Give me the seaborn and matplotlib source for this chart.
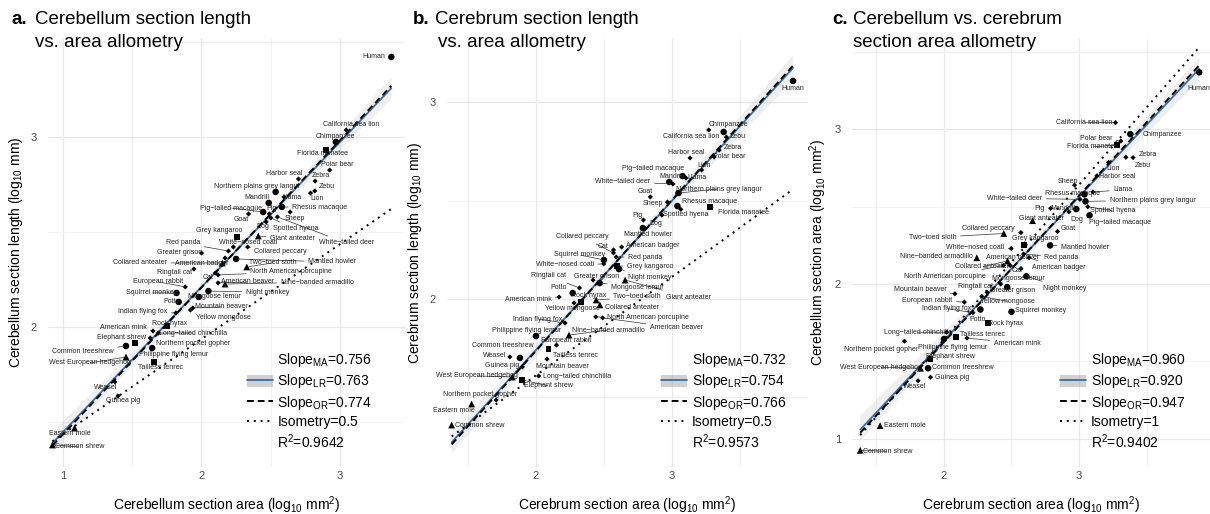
import numpy as np
import pandas as pd
import matplotlib
matplotlib.use("Agg")
import matplotlib.pyplot as plt
import seaborn as sns
from matplotlib.lines import Line2D
from matplotlib.patches import Patch
from matplotlib.ticker import FixedLocator, MultipleLocator

# ---------------- data (log10 values) ----------------
species = [
    "Human", "California sea lion", "Chimpanzee", "Florida manatee", "Polar bear",
    "Harbor seal", "Zebra", "Zebu", "Lion", "Northern plains grey langur",
    "Llama", "Mandrill", "Rhesus macaque", "Sheep", "Pig\u2212tailed macaque",
    "Pig", "Goat", "Dog", "Spotted hyena", "White\u2212tailed deer",
    "Giant anteater", "Grey kangaroo", "Red panda", "White\u2212nosed coati", "Greater grison",
    "Collared peccary", "Collared anteater", "American badger", "Mantled howler", "Two\u2212toed sloth",
    "North American porcupine", "Ringtail cat", "Cat", "European rabbit", "American beaver",
    "Nine\u2212banded armadillo", "Night monkey", "Squirrel monkey", "Mongoose lemur", "Potto",
    "Mountain beaver", "Yellow mongoose", "Indian flying fox", "Rock hyrax", "American mink",
    "Long\u2212tailed chinchilla", "Elephant shrew", "Northern pocket gopher", "Common treeshrew", "Philippine flying lemur",
    "West European hedgehog", "Tailless tenrec", "Weasel", "Guinea pig", "Eastern mole",
    "Common shrew",
]
group = [
    "circle", "small", "circle", "square", "small",
    "small", "small", "small", "small", "circle",
    "small", "circle", "circle", "small", "circle",
    "small", "small", "small", "small", "small",
    "triangle", "square", "small", "small", "small",
    "small", "triangle", "small", "circle", "triangle",
    "small", "small", "small", "small", "small",
    "triangle", "circle", "circle", "circle", "circle",
    "small", "small", "small", "square", "small",
    "small", "square", "small", "circle", "circle",
    "triangle", "square", "small", "small", "triangle",
    "triangle",
]
cerebellum_area = [
    3.37, 3.045, 2.97, 2.90, 2.925,
    2.70, 2.82, 2.818, 2.787, 2.535,
    2.596, 2.485, 2.58, 2.64, 2.445,
    2.49, 2.34, 2.467, 2.50, 2.548,
    2.41, 2.254, 2.194, 2.23, 2.00,
    2.333, 2.15, 2.17, 2.25, 2.327,
    2.12, 1.945, 2.10, 1.883, 2.12,
    2.17, 2.05, 1.82, 1.98, 1.835,
    1.937, 1.92, 1.815, 1.748, 1.65,
    1.688, 1.517, 1.63, 1.455, 1.644,
    1.455, 1.66, 1.374, 1.397, 1.084,
    0.924,
]
cerebrum_area = [
    3.89, 3.27, 3.38, 3.28, 3.31,
    3.133, 3.347, 3.40, 3.218, 3.048,
    3.103, 2.98, 3.04, 2.967, 3.078,
    2.79, 2.841, 2.926, 3.065, 3.007,
    2.656, 2.595, 2.59, 2.498, 2.42,
    2.57, 2.47, 2.63, 2.786, 2.443,
    2.44, 2.32, 2.57, 2.151, 2.49,
    2.243, 2.61, 2.50, 2.468, 2.27,
    2.081, 2.28, 2.214, 2.328, 2.17,
    2.02, 1.90, 1.708, 1.882, 2.00,
    1.826, 2.092, 1.808, 1.90, 1.527,
    1.38,
]
cerebellum_length = [
    3.421, 3.037, 2.974, 2.93, 2.826,
    2.779, 2.768, 2.716, 2.705, 2.711,
    2.684, 2.653, 2.632, 2.605, 2.605,
    2.595, 2.595, 2.553, 2.574, 2.579,
    2.479, 2.474, 2.400, 2.421, 2.389,
    2.421, 2.337, 2.363, 2.358, 2.316,
    2.274, 2.305, 2.284, 2.211, 2.232,
    2.226, 2.189, 2.179, 2.158, 2.132,
    2.100, 2.089, 2.074, 2.005, 1.979,
    1.968, 1.916, 1.942, 1.900, 1.889,
    1.842, 1.816, 1.711, 1.637, 1.468,
    1.379,
]
cerebrum_length = [
    3.107, 2.858, 2.848, 2.467, 2.721,
    2.716, 2.756, 2.822, 2.655, 2.538,
    2.614, 2.594, 2.472, 2.492, 2.624,
    2.401, 2.518, 2.426, 2.455, 2.584,
    2.096, 2.168, 2.213, 2.178, 2.096,
    2.234, 1.970, 2.264, 2.360, 1.995,
    1.909, 2.056, 2.249, 1.766, 1.904,
    1.817, 2.152, 2.198, 2.081, 2.030,
    1.695, 1.980, 1.878, 1.985, 2.010,
    1.609, 1.589, 1.487, 1.701, 1.812,
    1.604, 1.746, 1.706, 1.655, 1.467,
    1.360,
]

panel_letters = ["a.", "b.", "c."]
title_line1 = ["Cerebellum section length", "Cerebrum section length", "Cerebellum vs. cerebrum"]
title_line2 = ["vs. area allometry", "vs. area allometry", "section area allometry"]
x_labels = ["Cerebellum section area (log$_{10}$ mm$^2$)",
            "Cerebrum section area (log$_{10}$ mm$^2$)",
            "Cerebrum section area (log$_{10}$ mm$^2$)"]
y_labels = ["Cerebellum section length (log$_{10}$ mm)",
            "Cerebrum section length (log$_{10}$ mm)",
            "Cerebellum section area (log$_{10}$ mm$^2$)"]
slope_ma = [0.756, 0.732, 0.960]
slope_lr = [0.763, 0.754, 0.920]
slope_or = [0.774, 0.766, 0.947]
isometry = ["0.5", "0.5", "1"]
r_squared = ["0.9642", "0.9573", "0.9402"]
x_ticks = [[1, 2, 3], [2, 3], [2, 3]]
y_ticks = [[2, 3], [2, 3], [1, 2, 3]]

# ---------------- layout (label offsets in pixels: dx right, dy down) ----------------
offs_a = {
    "Human": (-17, 0), "California sea lion": (5, -5), "Chimpanzee": (0, -5), "Florida manatee": (-4, 3),
    "Polar bear": (8, -6), "Harbor seal": (-14, -5), "Zebra": (6, -6), "Zebu": (12, -4), "Lion": (7, 5),
    "Northern plains grey langur": (-19, -5), "Llama": (8, 0), "Mandrill": (-12, -5),
    "Rhesus macaque": (38, 1), "Sheep": (5, 6), "Pig\u2212tailed macaque": (-32, -4), "Pig": (2, -5),
    "Goat": (-7, 6), "Dog": (-3, 5), "Spotted hyena": (25, 11), "White\u2212tailed deer": (69, 26),
    "Giant anteater": (34, 3), "Grey kangaroo": (-17, -6), "Red panda": (-45, -8),
    "White\u2212nosed coati": (15, -4), "Greater grison": (-22, -1), "Collared peccary": (33, 5),
    "Collared anteater": (-82, 0), "American badger": (-23, 5), "Mantled howler": (96, 3),
    "Two\u2212toed sloth": (26, -4), "North American porcupine": (73, -3), "Ringtail cat": (-19, 3),
    "Cat": (-7, 4), "European rabbit": (-27, -5), "American beaver": (29, -1),
    "Nine\u2212banded armadillo": (92, -2), "Night monkey": (59, 1), "Squirrel monkey": (-25, 0),
    "Mongoose lemur": (16, 0), "Potto": (-7, 0), "Mountain beaver": (29, -1),
    "Yellow mongoose": (33, 7), "Indian flying fox": (-33, -1), "Rock hyrax": (3, -3),
    "American mink": (-30, -3), "Long\u2212tailed chinchilla": (35, 0), "Elephant shrew": (-13, -5),
    "Northern pocket gopher": (43, 6), "Common treeshrew": (-43, 6), "Philippine flying lemur": (21, 6),
    "West European hedgehog": (-36, 6), "Tailless tenrec": (6, 6), "Weasel": (-9, 6),
    "Guinea pig": (5, 5), "Eastern mole": (-5, 5), "Common shrew": (27, 2),
}
offs_b = {
    "Human": (0, 8), "California sea lion": (-18, 7), "Chimpanzee": (5, -7), "Florida manatee": (33, 6),
    "Polar bear": (15, 0), "Harbor seal": (-4, -5), "Zebra": (14, -3), "Zebu": (11, -1), "Lion": (2, -4),
    "Northern plains grey langur": (40, -4), "Llama": (11, -1), "Mandrill": (3, -5),
    "Rhesus macaque": (32, -5), "Sheep": (-15, 1), "Pig\u2212tailed macaque": (-30, -8), "Pig": (-6, -5),
    "Goat": (-5, -5), "Dog": (-6, 8), "Spotted hyena": (5, 5), "White\u2212tailed deer": (-50, -2),
    "Giant anteater": (63, 17), "Grey kangaroo": (33, 1), "Red panda": (29, 0),
    "White\u2212nosed coati": (-39, 1), "Greater grison": (4, -4), "Collared peccary": (-31, -16),
    "Collared anteater": (32, 3), "American badger": (31, -1), "Mantled howler": (5, 6),
    "Two\u2212toed sloth": (41, -3), "North American porcupine": (52, 1), "Ringtail cat": (-31, -12),
    "Cat": (-10, -3), "European rabbit": (10, -5), "American beaver": (74, 10),
    "Nine\u2212banded armadillo": (39, -5), "Night monkey": (31, 8), "Squirrel monkey": (-24, -5),
    "Mongoose lemur": (38, 4), "Potto": (-14, -6), "Mountain beaver": (15, 7),
    "Yellow mongoose": (-2, 6), "Indian flying fox": (-27, -4), "Rock hyrax": (8, -6),
    "American mink": (-31, 2), "Long\u2212tailed chinchilla": (38, 0), "Elephant shrew": (26, 6),
    "Northern pocket gopher": (-16, -6), "Common treeshrew": (-17, -12), "Philippine flying lemur": (-9, -6),
    "West European hedgehog": (-35, -1), "Tailless tenrec": (27, 6), "Weasel": (-15, -1),
    "Guinea pig": (-20, -1), "Eastern mole": (-18, 7), "Common shrew": (28, 0),
}
offs_c = {
    "Human": (0, 16), "California sea lion": (-31, 0), "Chimpanzee": (32, 0), "Florida manatee": (-24, 2),
    "Polar bear": (-25, -3), "Harbor seal": (20, 1), "Zebra": (22, -3), "Zebu": (10, 8), "Lion": (5, 6),
    "Northern plains grey langur": (67, -1), "Llama": (30, -2), "Mandrill": (-13, -1),
    "Rhesus macaque": (-12, -1), "Sheep": (-7, -4), "Pig\u2212tailed macaque": (31, 7), "Pig": (-11, 0),
    "Goat": (11, -3), "Dog": (8, 8), "Spotted hyena": (25, 4), "White\u2212tailed deer": (-65, -1),
    "Giant anteater": (9, -2), "Grey kangaroo": (11, -6), "Red panda": (38, 3),
    "White\u2212nosed coati": (-36, -1), "Greater grison": (12, 6), "Collared peccary": (-33, -4),
    "Collared anteater": (-25, 6), "American badger": (30, 10), "Mantled howler": (35, 2),
    "Two\u2212toed sloth": (-71, 4), "North American porcupine": (-58, 11), "Ringtail cat": (-12, -6),
    "Cat": (-4, 2), "European rabbit": (-37, -2), "American beaver": (2, -8),
    "Nine\u2212banded armadillo": (-40, -1), "Night monkey": (38, 12), "Squirrel monkey": (29, -1),
    "Mongoose lemur": (11, -9), "Potto": (-3, 10), "Mountain beaver": (-35, -4),
    "Yellow mongoose": (26, 5), "Indian flying fox": (-26, -4), "Rock hyrax": (17, 1),
    "American mink": (50, 5), "Long\u2212tailed chinchilla": (-29, 0), "Elephant shrew": (20, -2),
    "Northern pocket gopher": (-23, 8), "Common treeshrew": (35, -1), "Philippine flying lemur": (9, 8),
    "West European hedgehog": (-40, -1), "Tailless tenrec": (26, -2), "Weasel": (-3, 6),
    "Guinea pig": (22, 0), "Eastern mole": (25, 0), "Common shrew": (27, 1),
}

df = pd.DataFrame({
    "species": species, "group": group,
    "cbl_area": cerebellum_area, "cbr_area": cerebrum_area,
    "cbl_len": cerebellum_length, "cbr_len": cerebrum_length,
})

panels = [
    dict(x="cbl_area", y="cbl_len", offs=offs_a,
         rect=[48, 47, 357, 429], xlim=(0.892, 3.469), ylim=(1.263, 3.521),
         legx=0.557, title_x=(12, 35, 35)),
    dict(x="cbr_area", y="cbr_len", offs=offs_b,
         rect=[447, 47, 361, 429], xlim=(1.346, 4.0), ylim=(1.147, 3.325),
         legx=0.593, title_x=(413, 435, 438)),
    dict(x="cbr_area", y="cbl_area", offs=offs_c,
         rect=[852, 47, 358, 429], xlim=(1.319, 3.97), ylim=(0.816, 3.592),
         legx=0.581, title_x=(832, 853, 853)),
]

sns.set_theme(style="white")
plt.rcParams["font.family"] = ["Liberation Sans", "DejaVu Sans"]
plt.rcParams["mathtext.default"] = "regular"
plt.rcParams["text.color"] = "black"

W, H = 1210, 514
fig = plt.figure(figsize=(W / 100, H / 100), dpi=100)
fig.patch.set_facecolor("white")

blue = "#3b6ea5"
band = (0.6, 0.6, 0.6, 0.45)
markers = {"circle": "o", "triangle": "^", "square": "s", "small": "D"}
sizes = {"circle": 22, "triangle": 24, "square": 18, "small": 7}
pal = {g: "black" for g in markers}

for i, p in enumerate(panels):
    l, b, w, h = p["rect"]
    ax = fig.add_axes([l / W, b / H, w / W, h / H])
    ax.set_facecolor("white")
    for s in ax.spines.values():
        s.set_visible(False)
    ax.set_xlim(*p["xlim"])
    ax.set_ylim(*p["ylim"])
    ax.xaxis.set_major_locator(FixedLocator(x_ticks[i]))
    ax.yaxis.set_major_locator(FixedLocator(y_ticks[i]))
    ax.xaxis.set_minor_locator(MultipleLocator(0.5))
    ax.yaxis.set_minor_locator(MultipleLocator(0.5))
    ax.grid(True, which="major", color="#e8e8e8", lw=0.9, zorder=0)
    ax.grid(True, which="minor", color="#f0f0f0", lw=0.6, zorder=0)
    ax.set_axisbelow(True)
    ax.tick_params(which="both", length=0, labelsize=8, labelcolor="#4d4d4d")
    ax.tick_params(axis="x", pad=3)
    ax.tick_params(axis="y", pad=8)

    xs = df[p["x"]].to_numpy()
    ys = df[p["y"]].to_numpy()
    xbar, ybar = xs.mean(), ys.mean()
    xr = np.array([xs.min(), xs.max()])

    # LR fit with confidence band
    sns.regplot(data=df, x=p["x"], y=p["y"], ax=ax, scatter=False, ci=95,
                n_boot=2000, seed=7, color=blue, truncate=True,
                line_kws=dict(lw=1.3, zorder=3))
    for coll in ax.collections:
        coll.set_facecolor(band)
        coll.set_edgecolor("none")
        coll.set_zorder(2)

    # OR line (dashed) and isometry (dotted)
    ax.plot(xr, ybar + slope_or[i] * (xr - xbar), color="black", lw=1.4,
            dashes=(3.5, 2), zorder=4)
    y0 = ybar + slope_ma[i] * (xr[0] - xbar)
    iso = float(isometry[i])
    ax.plot(xr, y0 + iso * (xr - xr[0]), color="black", lw=1.4,
            dashes=(1, 2.5), zorder=4)

    sns.scatterplot(data=df, x=p["x"], y=p["y"], hue="group", palette=pal,
                    style="group", markers=markers, size="group", sizes=sizes,
                    linewidth=0, legend=False, ax=ax, zorder=6)

    for sp, xv, yv in zip(df["species"], xs, ys):
        dx, dy = p["offs"][sp]
        kw = {}
        if np.hypot(dx, dy) > 24:
            kw["arrowprops"] = dict(arrowstyle="-", lw=0.5, color="#333333",
                                    shrinkA=0.5, shrinkB=1.5)
        ax.annotate(sp, (xv, yv), xytext=(dx, -dy), textcoords="offset pixels",
                    ha="center", va="center", fontsize=5.0, color="#222222",
                    annotation_clip=False, zorder=7, **kw)

    ax.set_xlabel(x_labels[i], fontsize=10, color="black")
    ax.set_ylabel(y_labels[i], fontsize=10, color="black")
    ax.xaxis.set_label_coords(0.5, -0.063)
    ax.yaxis.set_label_coords(-0.064, 0.5)

    handles = [
        Line2D([], [], color="none"),
        (Patch(facecolor=band, edgecolor="none"), Line2D([], [], color=blue, lw=1.3)),
        Line2D([], [], color="black", lw=1.4, dashes=(3.5, 2)),
        Line2D([], [], color="black", lw=1.4, dashes=(1, 2.5)),
        Line2D([], [], color="none"),
    ]
    labels = [
        "Slope$_{MA}$=%.3f" % slope_ma[i],
        "Slope$_{LR}$=%.3f" % slope_lr[i],
        "Slope$_{OR}$=%.3f" % slope_or[i],
        "Isometry=%s" % isometry[i],
        "R$^2$=%s" % r_squared[i],
    ]
    leg = ax.legend(handles, labels, loc="upper left",
                    bbox_to_anchor=(p["legx"], (467 - 351) / 429), frameon=False,
                    fontsize=10, handlelength=1.85, handleheight=1.0,
                    handletextpad=0.35, labelspacing=0.25, borderpad=0,
                    borderaxespad=0)
    for t in leg.get_texts():
        t.set_color("black")
    leg.set_zorder(8)

    tx0, tx1, tx2 = p["title_x"]
    fig.text(tx0 / W, 1 - 24 / H, panel_letters[i], fontsize=13.5,
             fontweight="bold", va="baseline", ha="left", color="black")
    fig.text(tx1 / W, 1 - 24 / H, title_line1[i], fontsize=13.5,
             va="baseline", ha="left", color="black")
    fig.text(tx2 / W, 1 - 47 / H, title_line2[i], fontsize=13.5,
             va="baseline", ha="left", color="black")

fig.savefig("out.png", dpi=100, facecolor="white")
